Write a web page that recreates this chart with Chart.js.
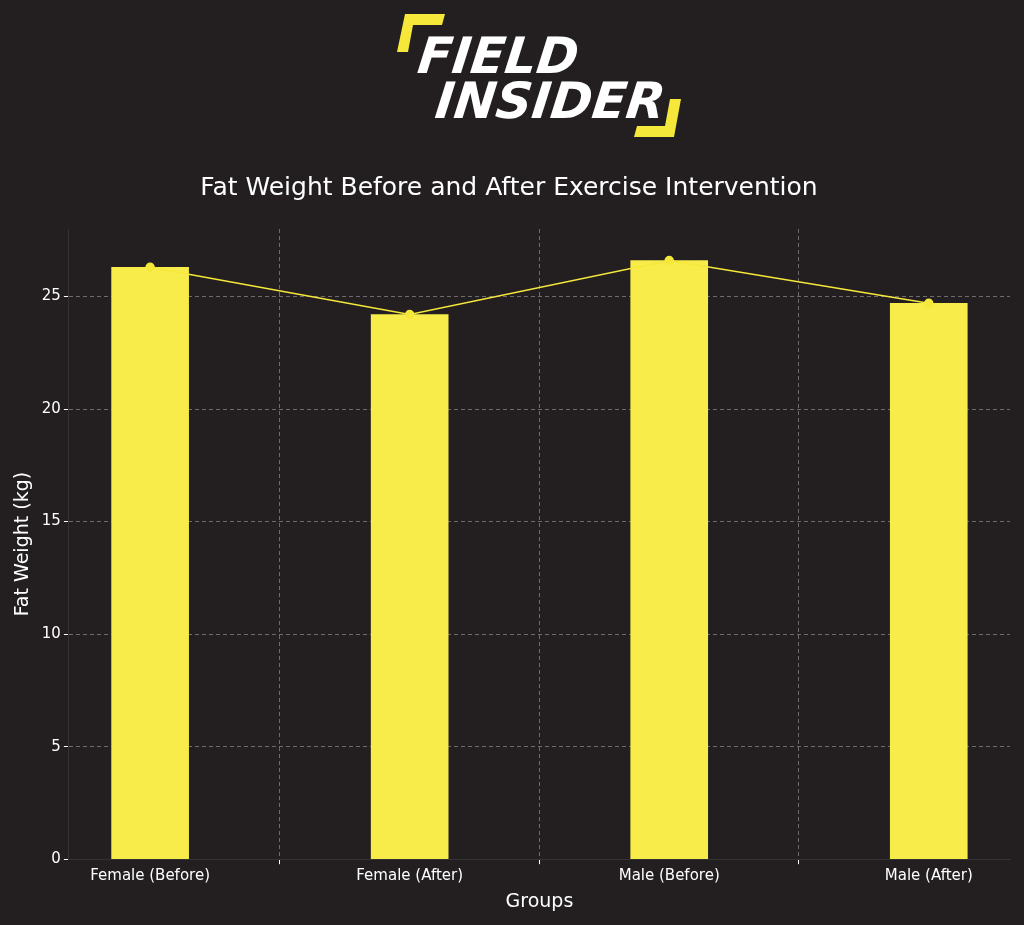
<!DOCTYPE html>
<html>
<head>
<meta charset="utf-8">
<script src="https://cdn.jsdelivr.net/npm/chart.js@4"></script>
<style>
  html, body { margin: 0; background: #231f20; }
  #wrap { width: 1024px; height: 925px; }
</style>
</head>
<body>
<div id="wrap"><canvas id="c"></canvas></div>
<script>
const groups = ["Female (Before)", "Female (After)", "Male (Before)", "Male (After)"];
const fatWeight = [26.3, 24.2, 26.6, 24.7];
const yTicks = [0, 5, 10, 15, 20, 25];

const points = fatWeight.map((v, i) => ({ x: i, y: v }));

// logo drawn on top of the page
const logo = {
  id: "logo",
  afterDraw(chart) {
    const ctx = chart.ctx;
    ctx.save();
    ctx.fillStyle = "#f5e83a";
    ctx.beginPath();
    ctx.moveTo(405, 14); ctx.lineTo(445, 14); ctx.lineTo(442, 25); ctx.lineTo(413, 25);
    ctx.lineTo(408, 52); ctx.lineTo(397, 52); ctx.closePath(); ctx.fill();
    ctx.beginPath();
    ctx.moveTo(681, 99); ctx.lineTo(674, 137); ctx.lineTo(634, 137); ctx.lineTo(637, 126);
    ctx.lineTo(665, 126); ctx.lineTo(670, 99); ctx.closePath(); ctx.fill();
    ctx.fillStyle = "#ffffff";
    ctx.font = "italic bold 50px 'DejaVu Sans'";
    ctx.textBaseline = "alphabetic";
    ctx.setTransform(1, 0, -0.12, 1, 0, 0);
    ctx.fillText("FIELD", 425, 73);
    ctx.fillText("INSIDER", 448, 118);
    ctx.restore();
  }
};

new Chart(document.getElementById("c"), {
  data: {
    datasets: [
      {
        type: "line",
        data: points,
        borderColor: "#f5e83a",
        backgroundColor: "#f5e83a",
        borderWidth: 1.5,
        pointRadius: 4,
        pointHoverRadius: 4
      },
      {
        type: "bar",
        data: points,
        backgroundColor: "#f7ec4a",
        barThickness: 77
      }
    ]
  },
  options: {
    responsive: true,
    maintainAspectRatio: false,
    animation: false,
    layout: { padding: { top: 28, right: 14, left: 8, bottom: 8 } },
    plugins: {
      legend: { display: false },
      tooltip: { enabled: false },
      title: {
        display: true,
        text: "Fat Weight Before and After Exercise Intervention",
        color: "#ffffff",
        font: { family: "'DejaVu Sans'", size: 25, weight: "normal" },
        padding: { top: 145, bottom: 26 }
      }
    },
    scales: {
      x: {
        type: "linear",
        offset: false,
        min: -0.313,
        max: 3.313,
        afterBuildTicks: (s) => { s.ticks = groups.map((_, i) => ({ value: i })); },
        ticks: {
          color: "#ffffff",
          font: { family: "'DejaVu Sans'", size: 15 },
          callback: (v) => groups[v],
          maxRotation: 0
        },
        grid: { color: "rgba(200,200,200,0.45)", tickColor: "#ffffff", tickLength: 5 },
        border: { color: "#333", dash: [4, 3] },
        title: {
          display: true, text: "Groups", color: "#ffffff",
          font: { family: "'DejaVu Sans'", size: 19 }, padding: { top: 2 }
        }
      },
      y: {
        min: 0,
        max: 28,
        afterBuildTicks: (s) => { s.ticks = yTicks.map(v => ({ value: v })); },
        ticks: { color: "#ffffff", font: { family: "'DejaVu Sans'", size: 15 } },
        grid: { color: "rgba(200,200,200,0.45)", tickColor: "#ffffff", tickLength: 5 },
        border: { color: "#333", dash: [4, 3] },
        title: {
          display: true, text: "Fat Weight (kg)", color: "#ffffff",
          font: { family: "'DejaVu Sans'", size: 19 }
        }
      }
    }
  },
  plugins: [logo]
});
</script>
</body>
</html>
